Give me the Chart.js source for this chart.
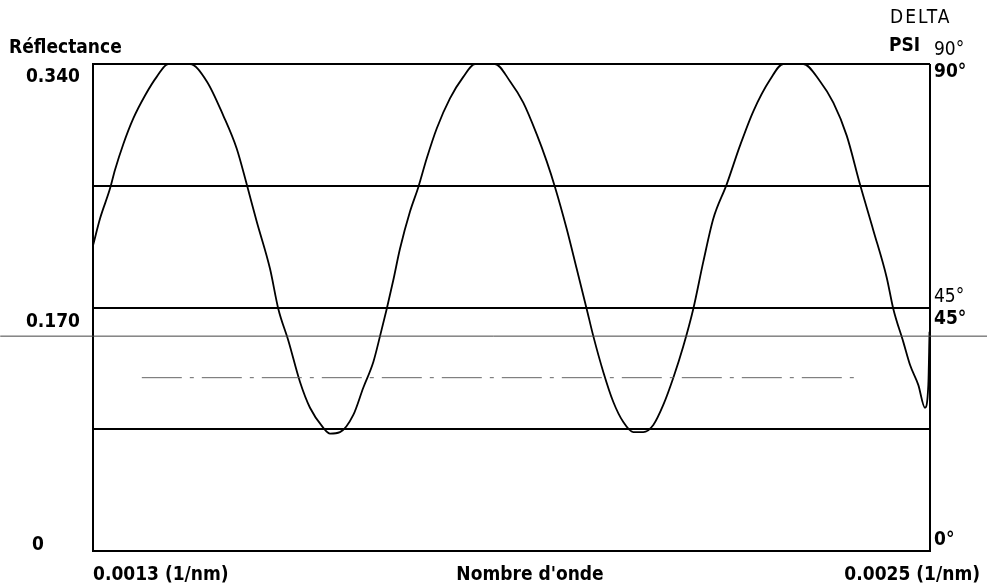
<!DOCTYPE html>
<html>
<head>
<meta charset="utf-8">
<script src="https://cdn.jsdelivr.net/npm/chart.js@4/dist/chart.umd.min.js"></script>
<style>
  body { margin: 0; background: #fff; }
  #wrap { width: 987px; height: 586px; }
</style>
</head>
<body>
<div id="wrap"><canvas id="refl" width="987" height="586"></canvas></div>
<script>
// nombre d'onde (1/nm)
const waveNumbers = [
  0.0013004, 0.0013100, 0.0013244, 0.0013315, 0.0013434, 0.0013578, 0.0013746, 0.0013913,
  0.0014080, 0.0014390, 0.0014630, 0.0014868, 0.0015060, 0.0015204, 0.0015347, 0.0015538,
  0.0015657, 0.0015800, 0.0015968, 0.0016111, 0.0016302, 0.0016398, 0.0016541, 0.0016732,
  0.0016875, 0.0017019, 0.0017115, 0.0017211, 0.0017305, 0.0017401, 0.0017545, 0.0017664,
  0.0017784, 0.0017928, 0.0018118, 0.0018309, 0.0018477, 0.0018763, 0.0018978, 0.0019169,
  0.0019361, 0.0019505, 0.0019624, 0.0019791, 0.0019935, 0.0020078, 0.0020173, 0.0020316,
  0.0020460, 0.0020603, 0.0020746, 0.0020890, 0.0021033, 0.0021176, 0.0021320, 0.0021463,
  0.0021606, 0.0021750, 0.0021893, 0.0022085, 0.0022276, 0.0022467, 0.0022706, 0.0022897,
  0.0023184, 0.0023423, 0.0023614, 0.0023806, 0.0023996, 0.0024187, 0.0024379, 0.0024474,
  0.0024617, 0.0024713, 0.0024832, 0.0024928, 0.0024976, 0.0024993
];
const reflectance = [
  0.214, 0.232, 0.253, 0.266, 0.284, 0.302, 0.318, 0.331,
  0.340, 0.340, 0.328, 0.304, 0.281, 0.256, 0.230, 0.197,
  0.169, 0.147, 0.118, 0.100, 0.086, 0.082, 0.083, 0.095,
  0.114, 0.132, 0.150, 0.169, 0.189, 0.211, 0.237, 0.254,
  0.274, 0.295, 0.316, 0.331, 0.340, 0.340, 0.328, 0.313,
  0.291, 0.272, 0.254, 0.225, 0.197, 0.169, 0.150, 0.125,
  0.104, 0.090, 0.083, 0.083, 0.088, 0.102, 0.121, 0.143,
  0.169, 0.202, 0.232, 0.256, 0.283, 0.307, 0.329, 0.340,
  0.340, 0.328, 0.313, 0.290, 0.256, 0.224, 0.191, 0.169,
  0.146, 0.130, 0.116, 0.100, 0.116, 0.153
];

const xMin = 0.0013, xMax = 0.0025;
const yMin = 0, yMax = 0.340;
const gridLevels = [0, 0.085, 0.170, 0.255, 0.340];
const yLabels = ['0', '0.170', '0.340'];
const rightLabels = ['0°', '45°', '90°'];

// the two faint reference lines
const greyLine = [{ x: 0.001167, y: 0.150 }, { x: 0.002582, y: 0.150 }];
const dashLine = [{ x: 0.00137, y: 0.121 }, { x: 0.00240, y: 0.121 }];

const FAMILY = '"Liberation Sans Narrow", "DejaVu Sans Condensed", "Liberation Sans", sans-serif';
const BOLD = 'bold 19px ' + FAMILY;
const THIN = '19px ' + FAMILY;

const labelsPlugin = {
  id: 'labels',
  afterDraw(chart) {
    const { ctx, chartArea, scales } = chart;
    const y = scales.y;
    ctx.save();
    ctx.fillStyle = '#000';
    ctx.textBaseline = 'middle';

    ctx.font = BOLD;
    ctx.textAlign = 'left';
    ctx.fillText('Réflectance', 9, 48);

    ctx.textAlign = 'right';
    ctx.fillText(yLabels[2], 80, y.getPixelForValue(0.340) + 13);
    ctx.fillText(yLabels[1], 80, y.getPixelForValue(0.170) + 15);
    ctx.textAlign = 'center';
    ctx.fillText(yLabels[0], 38, y.getPixelForValue(0) - 6);

    // right side angle labels
    const rx = chartArea.right + 4;
    ctx.textAlign = 'left';
    ctx.font = THIN;
    ctx.letterSpacing = '2px';
    ctx.fillText('DELTA', 890, 18);
    ctx.letterSpacing = '0px';
    ctx.fillText(rightLabels[2], rx, y.getPixelForValue(0.340) - 14);
    ctx.fillText(rightLabels[1], rx, y.getPixelForValue(0.170) - 10);
    ctx.font = BOLD;
    ctx.fillText('PSI', 889, 46);
    ctx.fillText(rightLabels[2], rx, y.getPixelForValue(0.340) + 8);
    ctx.fillText(rightLabels[1], rx, y.getPixelForValue(0.170) + 12);
    ctx.fillText(rightLabels[0], rx, y.getPixelForValue(0) - 11);

    // x labels
    const by = chartArea.bottom + 24;
    ctx.textAlign = 'left';
    ctx.fillText('0.0013 (1/nm)', chartArea.left, by);
    ctx.textAlign = 'center';
    ctx.fillText("Nombre d'onde", 530, by);
    ctx.textAlign = 'right';
    ctx.fillText('0.0025 (1/nm)', 980, by);
    ctx.restore();
  }
};

const ctx = document.getElementById('refl').getContext('2d');
const chart = new Chart(ctx, {
  type: 'scatter',
  data: {
    datasets: [
      {
        label: 'grey',
        data: greyLine,
        showLine: true,
        borderColor: '#444',
        borderWidth: 1,
        pointRadius: 0,
        clip: false
      },
      {
        label: 'dash',
        data: dashLine,
        showLine: true,
        borderColor: '#666',
        borderWidth: 1,
        borderDash: [40, 8, 4, 8],
        pointRadius: 0
      },
      {
        label: 'Réflectance',
        data: waveNumbers.map((w, i) => ({ x: w, y: reflectance[i] })),
        showLine: true,
        borderColor: '#000',
        borderWidth: 1.8,
        cubicInterpolationMode: 'monotone',
        pointRadius: 0
      }
    ]
  },
  options: {
    responsive: false,
    animation: false,
    layout: { padding: { left: 93, right: 57, top: 64, bottom: 35 } },
    plugins: {
      legend: { display: false },
      tooltip: { enabled: false }
    },
    scales: {
      x: {
        type: 'linear',
        min: xMin,
        max: xMax,
        afterBuildTicks: axis => { axis.ticks = [{ value: xMin }, { value: xMax }]; },
        ticks: { display: false },
        grid: { color: '#000', lineWidth: 2, drawTicks: false },
        border: { display: true, color: '#000', width: 2 }
      },
      y: {
        min: yMin,
        max: yMax,
        afterBuildTicks: axis => { axis.ticks = gridLevels.map(v => ({ value: v })); },
        ticks: { display: false },
        grid: { color: '#000', lineWidth: 2, drawTicks: false },
        border: { display: true, color: '#000', width: 2 }
      }
    }
  },
  plugins: [labelsPlugin]
});
</script>
</body>
</html>
